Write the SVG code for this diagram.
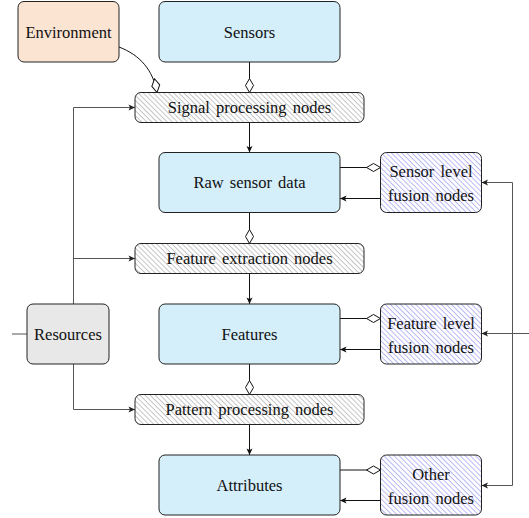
<svg xmlns="http://www.w3.org/2000/svg" width="529" height="518" viewBox="0 0 529 518">
<style>
.t{font-size:16.5px;fill:#111;text-anchor:middle;word-spacing:2px}
.box{stroke:#222;stroke-width:1}
.c{fill:none;stroke:#111;stroke-width:1}
.g{fill:none;stroke:#555;stroke-width:1}
</style>
<defs>
<pattern id="hg" patternUnits="userSpaceOnUse" width="10" height="3.6" patternTransform="rotate(45)">
<rect width="10" height="3.6" fill="#fff"/>
<line x1="0" y1="0.5" x2="10" y2="0.5" stroke="#a8a8a8" stroke-width="0.7"/>
</pattern>
<pattern id="hb" patternUnits="userSpaceOnUse" width="10" height="3.6" patternTransform="rotate(45)">
<rect width="10" height="3.6" fill="#fff"/>
<line x1="0" y1="0.5" x2="10" y2="0.5" stroke="#a3a3f2" stroke-width="0.8"/>
</pattern>
<marker id="dia" markerUnits="userSpaceOnUse" viewBox="-1 -5 16 10" markerWidth="16" markerHeight="10" refX="14" refY="0" orient="auto">
<path d="M0,0 L7,-4 L14,0 L7,4 Z" fill="#fff" stroke="#111" stroke-width="1"/>
</marker>
<marker id="arr" markerUnits="userSpaceOnUse" viewBox="-8 -4 9 8" markerWidth="9" markerHeight="8" refX="0" refY="0" orient="auto">
<path d="M-6.5,-3 L0,0 L-6.5,3 L-5,0 Z" fill="#111"/>
</marker>
<marker id="arrg" markerUnits="userSpaceOnUse" viewBox="-8 -4 9 8" markerWidth="9" markerHeight="8" refX="0" refY="0" orient="auto">
<path d="M-6.5,-3 L0,0 L-6.5,3 L-5,0 Z" fill="#222"/>
</marker>
</defs>
<g id="connectors">
<path class="c" d="M119,47 C140,55 153,70 157,92.5" marker-end="url(#dia)"/>
<path class="c" d="M249.5,62 V92.5" marker-end="url(#dia)"/>
<path class="c" d="M249.5,122.5 V152.5" marker-end="url(#arr)"/>
<path class="c" d="M249.5,212.5 V243.5" marker-end="url(#dia)"/>
<path class="c" d="M249.5,273.5 V304" marker-end="url(#arr)"/>
<path class="c" d="M249.5,364 V394.5" marker-end="url(#dia)"/>
<path class="c" d="M249.5,424.5 V455" marker-end="url(#arr)"/>
<path class="c" d="M340,167.5 H380.5" marker-end="url(#dia)"/>
<path class="c" d="M380.5,198.5 H340" marker-end="url(#arr)"/>
<path class="c" d="M340,318.5 H380.5" marker-end="url(#dia)"/>
<path class="c" d="M380.5,349.5 H340" marker-end="url(#arr)"/>
<path class="c" d="M340,470 H380.5" marker-end="url(#dia)"/>
<path class="c" d="M380.5,500.5 H340" marker-end="url(#arr)"/>
<path class="g" d="M73.5,304 V107.5 H135" marker-end="url(#arrg)"/>
<path class="g" d="M73.5,258.5 H135" marker-end="url(#arrg)"/>
<path class="g" d="M73.5,364 V409.5 H135" marker-end="url(#arrg)"/>
<path class="g" d="M12,334 H27"/>
<path class="g" d="M529,333.5 H481.5" marker-end="url(#arrg)"/>
<path class="g" d="M512.5,485.5 V182.5 H481.5" marker-end="url(#arrg)"/>
<path class="g" d="M512.5,485.5 H481.5" marker-end="url(#arrg)"/>
</g>
<g font-family="'Liberation Serif', 'DejaVu Serif', serif">
<g id="environment"><rect class="box" x="18" y="1.5" width="101" height="60.5" rx="6" fill="#fce4d2"/><text class="t" x="68.5" y="37.5">Environment</text></g>
<g id="sensors"><rect class="box" x="159" y="1.5" width="181" height="60.5" rx="6" fill="#d4eefa"/><text class="t" x="249.5" y="37.5">Sensors</text></g>
<g id="signal-processing"><rect class="box" x="135" y="92.5" width="229" height="30" rx="6" fill="url(#hg)"/><text class="t" x="249.5" y="113">Signal processing nodes</text></g>
<g id="raw-sensor-data"><rect class="box" x="159" y="152.5" width="181" height="60" rx="6" fill="#d4eefa"/><text class="t" x="249.5" y="188">Raw sensor data</text></g>
<g id="feature-extraction"><rect class="box" x="135" y="243.5" width="229" height="30" rx="6" fill="url(#hg)"/><text class="t" x="249.5" y="264">Feature extraction nodes</text></g>
<g id="features"><rect class="box" x="159" y="304" width="181" height="60" rx="6" fill="#d4eefa"/><text class="t" x="249.5" y="339.5">Features</text></g>
<g id="pattern-processing"><rect class="box" x="135" y="394.5" width="229" height="30" rx="6" fill="url(#hg)"/><text class="t" x="249.5" y="415">Pattern processing nodes</text></g>
<g id="attributes"><rect class="box" x="159" y="455" width="181" height="60" rx="6" fill="#d4eefa"/><text class="t" x="249.5" y="490.5">Attributes</text></g>
<g id="resources"><rect class="box" x="27" y="304" width="82" height="60" rx="6" fill="#e8e8e8"/><text class="t" x="68" y="339.5">Resources</text></g>
<g id="sensor-fusion"><rect class="box" x="380.5" y="152.5" width="101" height="60" rx="6" fill="url(#hb)"/><text class="t" x="431" y="177">Sensor level</text><text class="t" x="431" y="201">fusion nodes</text></g>
<g id="feature-fusion"><rect class="box" x="380.5" y="304" width="101" height="60" rx="6" fill="url(#hb)"/><text class="t" x="431" y="328.5">Feature level</text><text class="t" x="431" y="352.5">fusion nodes</text></g>
<g id="other-fusion"><rect class="box" x="380.5" y="455" width="101" height="60" rx="6" fill="url(#hb)"/><text class="t" x="431" y="479.5">Other</text><text class="t" x="431" y="503.5">fusion nodes</text></g>
</g>
</svg>
